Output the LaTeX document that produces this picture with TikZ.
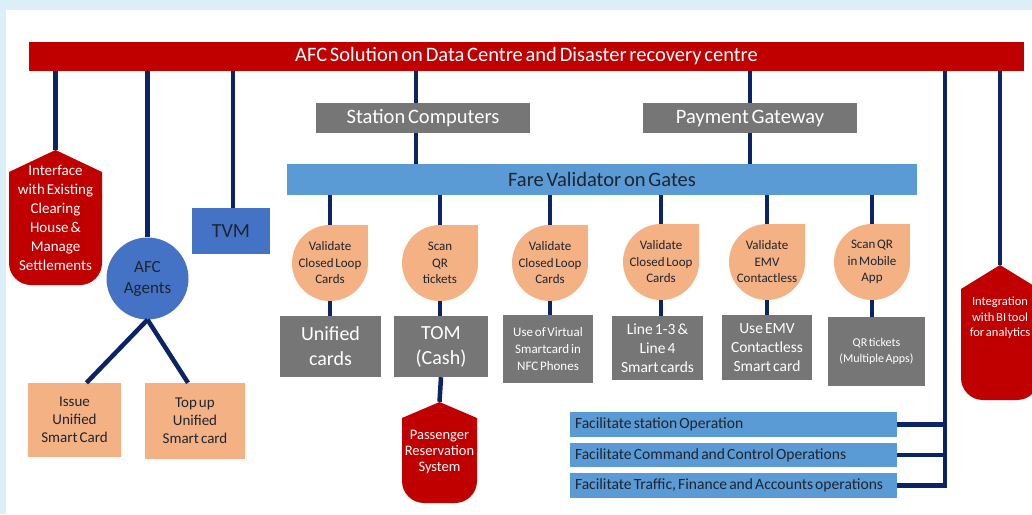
\documentclass[tikz,border=0pt]{standalone}
\usepackage{fontspec}
\setmainfont{Carlito}[WordSpace=0.6]
\usetikzlibrary{positioning}
\definecolor{afcred}{HTML}{C00000}
\definecolor{afcnavy}{HTML}{0B2466}
\definecolor{afcgrey}{HTML}{767676}
\definecolor{afclight}{HTML}{5B9BD5}
\definecolor{afcblue}{HTML}{4472C4}
\definecolor{afcpeach}{HTML}{F4B183}
\definecolor{afctext}{HTML}{1E2530}
\definecolor{afcback}{HTML}{DCEEF8}
\newcommand{\afcfont}[2]{\fontsize{#1}{#2}\selectfont}
\newcommand{\opstext}[1]{\makebox[317pt][l]{#1}}

\begin{document}
\begin{tikzpicture}[x=1pt, y=-1pt,
  tag/.style={inner sep=0pt, align=center, text=white, path picture={
    \fill[afcred, rounded corners=22pt] ([yshift=-#1]path picture bounding box.north west) rectangle (path picture bounding box.south east);
    \fill[afcred] (path picture bounding box.north) -- ([yshift=-#1]path picture bounding box.north east) -- ([yshift=-50pt]path picture bounding box.north east) -- ([yshift=-50pt]path picture bounding box.north west) -- ([yshift=-#1]path picture bounding box.north west) -- cycle;}}]
	\tikzstyle{conn}=[draw=afcnavy, line width=4.5pt]
	\tikzstyle{box}=[rectangle, inner sep=2pt, align=center]
	\tikzstyle{greybox}=[box, fill=afcgrey, text=white]
	\tikzstyle{lightbar}=[box, fill=afclight, text=afctext]
	\tikzstyle{peachbox}=[box, fill=afcpeach, text=afctext, font=\afcfont{15}{18}]
	\tikzstyle{bluebox}=[box, fill=afcblue, text=afctext]
	\tikzstyle{opsbar}=[lightbar, inner xsep=5pt, font=\afcfont{15.6}{18}]
	\tikzstyle{drop}=[minimum size=76pt, inner sep=0pt, align=center, text=afctext, font=\afcfont{13}{16.5},
	  path picture={\fill[afcpeach] (path picture bounding box.center) circle[radius=38pt];
	    \fill[afcpeach] (path picture bounding box.center) rectangle (path picture bounding box.north east);}]
	
	% Draw the background
	\useasboundingbox (0,0) rectangle (1032,514);
	\fill[afcback] (0,0) rectangle (1032,514);
	\fill[white] (6,10) rectangle (1032,514);
	
	% Draw the central system
	\node[box, fill=afcred, text=white, minimum width=995pt, minimum height=29pt, font=\afcfont{20.5}{23}] (afc) at (526.5,56.5) {AFC Solution on Data Centre and Disaster recovery centre};
	
	% Draw the station level
	\node[greybox, minimum width=214pt, minimum height=30pt, font=\afcfont{20.5}{23}] (station) at (423,118) {Station Computers};
	\node[greybox, minimum width=214pt, minimum height=30pt, font=\afcfont{20.5}{23}] (gateway) at (750,118) {Payment Gateway};
	\node[lightbar, minimum width=630pt, minimum height=31pt, font=\afcfont{20.5}{23}] (gates) at (602,179.5) {Fare Validator on Gates};
	
	% Draw the validations
	\node[drop] (d1) at (330,263) {Validate\\Closed Loop\\Cards};
	\node[drop] (d2) at (440,263) {Scan\\QR\\tickets};
	\node[drop] (d3) at (550,263) {Validate\\Closed Loop\\Cards};
	\node[drop] (d4) at (661,262) {Validate\\Closed Loop\\Cards};
	\node[drop] (d5) at (767,262) {Validate\\EMV\\Contactless};
	\node[drop] (d6) at (872,262) {Scan QR\\in Mobile\\App};
	
	% Draw the media
	\node[greybox, minimum width=101pt, minimum height=61pt, font=\afcfont{20}{25}] (g1) at (330.5,346.5) {Unified\\cards};
	\node[greybox, minimum width=94pt, minimum height=61pt, font=\afcfont{20}{25}] (g2) at (441,346.5) {TOM\\(Cash)};
	\node[greybox, minimum width=90pt, minimum height=68pt, font=\afcfont{13}{17}] (g3) at (548,349) {Use of Virtual\\Smartcard in\\NFC Phones};
	\node[greybox, minimum width=91pt, minimum height=64pt, font=\afcfont{15.5}{19}] (g4) at (657.5,348) {Line 1-3 \&\\Line 4\\Smart cards};
	\node[greybox, minimum width=90pt, minimum height=65pt, font=\afcfont{15.5}{19}] (g5) at (767,347.5) {Use EMV\\Contactless\\Smart card};
	\node[greybox, minimum width=97pt, minimum height=69pt, font=\afcfont{12}{16}] (g6) at (876.5,351.5) {QR tickets\\(Multiple Apps)};
	
	% Draw the external systems
	\node[tag=22pt, minimum width=93pt, minimum height=135pt, font=\afcfont{15}{19}] (clearing) at (55.5,217.5) {Interface\\with Existing\\Clearing\\House \&\\Manage\\Settlements};
	\node[tag=16pt, minimum width=75pt, minimum height=101pt, font=\afcfont{14.5}{16}] (reservation) at (439.5,452.5) {Passenger\\Reservation\\System};
	\node[tag=24pt, minimum width=78pt, minimum height=135pt, text depth=31pt, font=\afcfont{12.5}{15.5}] (analytics) at (1000,332.5) {Integration\\with BI tool\\for analytics};
	
	% Draw the agents
	\node[bluebox, circle, minimum size=82pt, inner sep=0pt, font=\afcfont{17}{21}] (agents) at (147.5,278.5) {AFC\\Agents};
	\node[bluebox, minimum width=78pt, minimum height=46pt, font=\afcfont{20}{24}] (tvm) at (231,231) {TVM};
	\node[peachbox, minimum width=93pt, minimum height=74pt] (issue) at (74.5,420) {Issue\\Unified\\Smart Card};
	\node[peachbox, minimum width=100pt, minimum height=76pt] (topup) at (195,421) {Top up\\Unified\\Smart card};
	
	% Draw the operations
	\node[opsbar, minimum height=25pt] (ops1) at (733.5,424.5) {\opstext{Facilitate station Operation}};
	\node[opsbar, minimum height=24pt] (ops2) at (733.5,455) {\opstext{Facilitate Command and Control Operations}};
	\node[opsbar, minimum height=25pt] (ops3) at (733.5,485.5) {\opstext{Facilitate Traffic, Finance and Accounts operations}};
	\coordinate (rail) at (945,0);
	
	% Draw connections
	\draw[conn] (clearing.north |- afc.south) -- (clearing.north);
	\draw[conn] (agents.north |- afc.south) -- (agents.north);
	\draw[conn] ([xshift=2pt]tvm.north |- afc.south) -- ([xshift=2pt]tvm.north);
	\draw[conn] ([xshift=-7pt]station.north |- afc.south) -- ([xshift=-7pt]station.north);
	\draw[conn] ([xshift=-7pt]station.south) -- ([xshift=-7pt]station.south |- gates.north);
	\draw[conn] (gateway.north |- afc.south) -- (gateway.north);
	\draw[conn] (gateway.south) -- (gateway.south |- gates.north);
	\foreach \i in {1,...,6} {
		\draw[conn] (d\i.north |- gates.south) -- (d\i.north);
		\draw[conn] (d\i.south) -- (d\i.south |- g\i.north);
	}
	\draw[conn] (g2.south) -- (reservation.north);
	\draw[conn] (agents.south) -- ([xshift=12pt]issue.north);
	\draw[conn] (agents.south) -- ([xshift=-7pt]topup.north);
	\draw[conn] (rail |- afc.south) |- (ops3.east);
	\draw[conn] (ops1.east) -- (ops1.east -| rail);
	\draw[conn] (ops2.east) -- (ops2.east -| rail);
	\draw[conn] (analytics.north |- afc.south) -- (analytics.north);
\end{tikzpicture}
\end{document}
